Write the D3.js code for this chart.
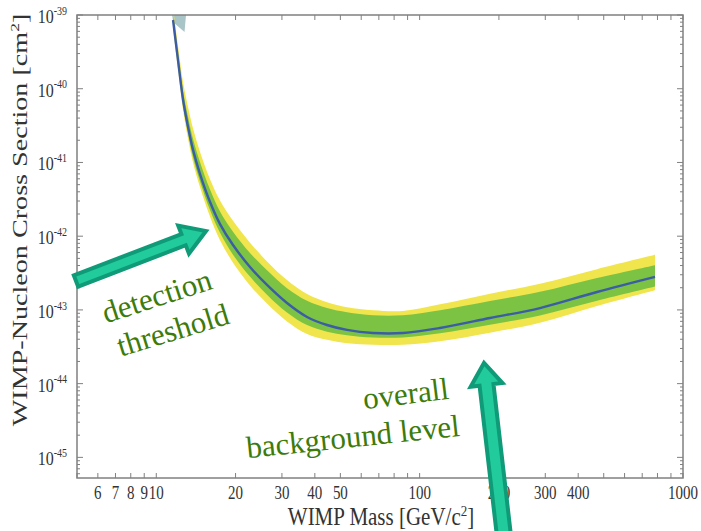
<!DOCTYPE html>
<html>
<head>
<meta charset="utf-8">
<script src="https://cdn.jsdelivr.net/npm/d3@7"></script>
<style>
  body { margin: 0; background: #fff; }
  svg { display: block; }
</style>
</head>
<body>
<svg id="chart" width="701" height="531"></svg>
<script>
// Expected WIMP-nucleon sensitivity: median curve with 1-sigma (green) and 2-sigma (yellow) bands
const massGeV = [11.58, 12.09, 12.64, 13.20, 13.79, 14.66, 16.00, 17.46, 19.56, 22.69, 26.33,
                 31.36, 37.36, 44.49, 52.99, 66.53, 86.47, 119.5, 185.0, 286.4, 471.6, 783.0];
const sigmaMedian = [8.55e-40, 2.45e-40, 7.03e-41, 3.03e-41, 1.48e-41, 6.97e-42, 2.91e-42, 1.46e-42,
                     7.59e-43, 3.82e-43, 2.18e-43, 1.24e-43, 8.02e-44, 6.24e-44, 5.35e-44, 4.86e-44,
                     4.86e-44, 5.69e-44, 7.76e-44, 1.06e-43, 1.75e-43, 2.80e-43];
const sigmaGreenLow = [7.62e-40, 2.14e-40, 5.85e-41, 2.46e-41, 1.17e-41, 5.53e-42, 2.26e-42, 1.11e-42,
                       5.62e-43, 2.83e-43, 1.61e-43, 9.20e-44, 6.22e-44, 5.07e-44, 4.55e-44, 4.24e-44,
                       4.24e-44, 4.84e-44, 6.31e-44, 8.43e-44, 1.33e-43, 2.07e-43];
const sigmaGreenHigh = [1.03e-39, 3.09e-40, 9.27e-41, 4.18e-41, 2.08e-41, 1.01e-41, 4.31e-42, 2.16e-42,
                        1.15e-42, 5.92e-43, 3.45e-43, 1.97e-43, 1.33e-43, 1.06e-43, 9.29e-44, 8.45e-44,
                        8.45e-44, 9.89e-44, 1.32e-43, 1.76e-43, 2.71e-43, 4.05e-43];
const sigmaYellowLow = [6.79e-40, 1.86e-40, 5.09e-41, 2.09e-41, 9.98e-42, 4.60e-42, 1.84e-42, 8.81e-43,
                        4.37e-43, 2.15e-43, 1.22e-43, 6.98e-44, 4.72e-44, 3.94e-44, 3.53e-44, 3.37e-44,
                        3.37e-44, 3.76e-44, 4.90e-44, 6.70e-44, 1.13e-43, 1.85e-43];
const sigmaYellowHigh = [1.24e-39, 3.89e-40, 1.22e-40, 5.64e-41, 2.88e-41, 1.39e-41, 5.94e-42, 3.05e-42,
                         1.62e-42, 8.17e-43, 4.55e-43, 2.54e-43, 1.64e-43, 1.27e-43, 1.09e-43, 9.93e-44,
                         9.70e-44, 1.19e-43, 1.66e-43, 2.27e-43, 3.57e-43, 5.58e-43];

// small excluded cap where the curve leaves the top of the frame
const capMass = [11.48, 12.97, 12.80, 11.60];
const capSigma = [1.0e-39, 1.0e-39, 5.9e-40, 8.0e-40];

const xTickLabels = [6, 7, 8, 9, 10, 20, 30, 40, 50, 100, 200, 300, 400, 1000];
const yTickExponents = [-39, -40, -41, -42, -43, -44, -45];

const FONT = "'Liberation Serif', 'Times New Roman', serif";
const svg = d3.select("#chart");

const pLeft = 77, pRight = 683, pTop = 15, pBottom = 478;
const x = d3.scaleLog().domain([5, 1000]).range([pLeft, pRight]);
const y = d3.scaleLog().domain([5.25e-46, 1e-39]).range([pBottom, pTop]);

const rows = massGeV.map((m, i) => ({
  m, med: sigmaMedian[i],
  gl: sigmaGreenLow[i], gh: sigmaGreenHigh[i],
  yl: sigmaYellowLow[i], yh: sigmaYellowHigh[i]
}));

svg.append("defs").append("clipPath").attr("id", "plotClip")
  .append("rect").attr("x", pLeft).attr("y", pTop)
  .attr("width", pRight - pLeft).attr("height", pBottom - pTop);

const plot = svg.append("g").attr("clip-path", "url(#plotClip)");
const smooth = d3.curveCatmullRom.alpha(0.5);

const band = (lo, hi) => d3.area()
  .x(d => x(d.m)).y0(d => y(d[lo])).y1(d => y(d[hi]))
  .curve(smooth);

plot.append("path")
  .attr("d", d3.line().curve(d3.curveLinearClosed)(capMass.map((m, i) => [x(m), y(capSigma[i])])))
  .attr("fill", "#a9c5c8");
plot.append("path").attr("d", band("yl", "yh")(rows)).attr("fill", "#f0e54d");
plot.append("path").attr("d", band("gl", "gh")(rows)).attr("fill", "#7cc243");
plot.append("path")
  .attr("d", d3.line().x(d => x(d.m)).y(d => y(d.med)).curve(smooth)(rows))
  .attr("fill", "none").attr("stroke", "#3b5ca6").attr("stroke-width", 2.4);

// frame with inward ticks on all four sides
const frameColor = "#808080";
const axes = svg.append("g").attr("stroke", frameColor).attr("fill", "none");
axes.append("rect").attr("x", pLeft).attr("y", pTop)
  .attr("width", pRight - pLeft).attr("height", pBottom - pTop).attr("stroke-width", 1.5);

const xTicks = [];
[1, 10, 100].forEach(dec => d3.range(1, 10).forEach(k => {
  const v = k * dec;
  if (v >= 5 && v <= 1000) xTicks.push(v);
}));
xTicks.push(1000);
xTicks.forEach(v => {
  const px = x(v);
  axes.append("line").attr("x1", px).attr("x2", px).attr("y1", pBottom).attr("y2", pBottom - 5);
  axes.append("line").attr("x1", px).attr("x2", px).attr("y1", pTop).attr("y2", pTop + 5);
});

d3.range(-46, -38).forEach(e => {
  d3.range(1, 10).forEach(k => {
    const v = k * Math.pow(10, e);
    const py = y(v);
    if (py < pTop - 0.5 || py > pBottom + 0.5) return;
    const len = k === 1 ? 6 : 3;
    axes.append("line").attr("x1", pLeft).attr("x2", pLeft + len).attr("y1", py).attr("y2", py);
    axes.append("line").attr("x1", pRight).attr("x2", pRight - len).attr("y1", py).attr("y2", py);
  });
});

// tick labels
const labels = svg.append("g").attr("font-family", FONT).attr("fill", "#333");
xTickLabels.forEach(v => {
  labels.append("text")
    .attr("transform", `translate(${x(v)},499) scale(1,1.2)`)
    .attr("text-anchor", "middle").attr("font-size", 15)
    .text(v);
});
yTickExponents.forEach(e => {
  const t = labels.append("text")
    .attr("transform", `translate(67,${y(Math.pow(10, e)) + 8}) scale(1,1.2)`)
    .attr("text-anchor", "end").attr("font-size", 16);
  t.append("tspan").text("10");
  t.append("tspan").attr("font-size", 10).attr("dy", -7).text(String(e));
});

// axis titles
const xt = labels.append("text")
  .attr("transform", "translate(381,525) scale(1,1.15)")
  .attr("text-anchor", "middle").attr("font-size", 21);
xt.append("tspan").text("WIMP Mass [GeV/c");
xt.append("tspan").attr("font-size", 13).attr("dy", -8).text("2");
xt.append("tspan").attr("dy", 8).text("]");

const yt = labels.append("text")
  .attr("transform", "translate(27,220) rotate(-90) scale(1.34,1)")
  .attr("text-anchor", "middle").attr("font-size", 21);
yt.append("tspan").text("WIMP-Nucleon Cross Section [cm");
yt.append("tspan").attr("font-size", 13).attr("dy", -8).text("2");
yt.append("tspan").attr("dy", 8).text("]");

// block arrows
function arrow(x0, y0, x1, y1, w, hw, hl) {
  const L = Math.hypot(x1 - x0, y1 - y0);
  const ang = Math.atan2(y1 - y0, x1 - x0) * 180 / Math.PI;
  const p = d3.path();
  p.moveTo(0, -w); p.lineTo(L - hl, -w); p.lineTo(L - hl, -hw); p.lineTo(L, 0);
  p.lineTo(L - hl, hw); p.lineTo(L - hl, w); p.lineTo(0, w); p.closePath();
  svg.append("path").attr("d", p.toString())
    .attr("transform", `translate(${x0},${y0}) rotate(${ang})`)
    .attr("fill", "#22cb9b").attr("stroke", "#0f9b78")
    .attr("stroke-width", 4).attr("stroke-linejoin", "miter");
}
arrow(76, 281, 206, 231, 6, 15, 24);
arrow(505, 545, 484, 363, 7, 16, 22);

// annotations
const note = svg.append("g").attr("font-family", FONT).attr("fill", "#3d7b0b").attr("font-size", 31);
note.append("text").attr("transform", "translate(160,306) rotate(-18)")
  .attr("text-anchor", "middle").text("detection");
note.append("text").attr("transform", "translate(176,340) rotate(-17)")
  .attr("text-anchor", "middle").text("threshold");
note.append("text").attr("transform", "translate(407,404) rotate(-7)")
  .attr("text-anchor", "middle").text("overall");
note.append("text").attr("transform", "translate(354,447) rotate(-6)")
  .attr("text-anchor", "middle").text("background level");
</script>
</body>
</html>
